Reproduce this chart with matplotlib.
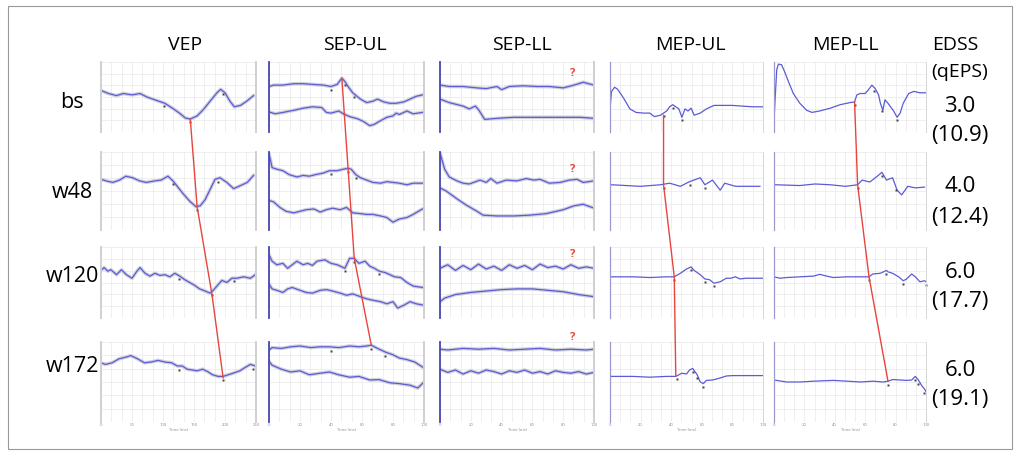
import numpy as np
import matplotlib.pyplot as plt
from matplotlib.patches import ConnectionPatch, Rectangle
from matplotlib.ticker import MultipleLocator, NullLocator

plt.rcParams['font.family'] = ['Open Sans', 'DejaVu Sans']

# labels
columns = ['VEP', 'SEP-UL', 'SEP-LL', 'MEP-UL', 'MEP-LL']
visits = ['bs', 'w48', 'w120', 'w172']
edss = ['3.0', '4.0', '6.0', '6.0']
qeps = ['(10.9)', '(12.4)', '(17.7)', '(19.1)']
windows = [250, 100, 100, 100, 100]   # ms shown per modality

# ---- VEP traces (time ms, amplitude in grid units 0-10) ----
vep_bs_t = [1, 12, 25, 36, 50, 63, 74, 90, 103, 117, 128, 136, 144, 155, 165, 176, 187, 193, 200, 208, 215, 225, 235, 246]
vep_bs_v = [5.9, 5.5, 5.2, 5.5, 5.3, 5.5, 5.0, 4.5, 4.1, 3.3, 2.6, 2.0, 1.85, 2.3, 3.2, 4.4, 5.6, 6.1, 5.6, 4.4, 3.6, 3.8, 4.4, 5.2]
vep_w48_t = [0, 8, 19, 30, 40, 51, 62, 73, 87, 97, 108, 116, 125, 133, 143, 153, 160, 168, 176, 184, 192, 203, 214, 225, 236, 246]
vep_w48_v = [6.5, 6.3, 6.1, 6.4, 6.9, 6.7, 6.3, 6.1, 6.3, 6.4, 6.9, 6.3, 5.4, 4.6, 3.7, 3.0, 3.1, 3.9, 5.2, 6.5, 6.7, 6.1, 5.3, 5.7, 6.1, 7.0]
vep_w120_t = [0, 5, 11, 16, 25, 33, 41, 50, 58, 63, 71, 79, 87, 95, 103, 111, 119, 127, 135, 143, 151, 159, 168, 176, 181, 187, 195, 203, 211, 219, 230, 241, 249]
vep_w120_v = [6.7, 7.1, 6.6, 6.8, 6.1, 6.8, 6.1, 5.6, 6.6, 7.1, 6.3, 5.9, 6.3, 6.0, 6.1, 5.8, 6.3, 5.9, 5.4, 5.0, 4.6, 4.1, 3.8, 3.5, 3.9, 4.5, 5.3, 5.0, 5.6, 5.6, 5.8, 5.6, 6.1]
vep_w172_t = [0, 7, 18, 29, 40, 48, 59, 70, 81, 92, 103, 114, 123, 131, 139, 147, 155, 164, 172, 180, 189, 197, 205, 213, 224, 232, 241, 249]
vep_w172_v = [7.4, 7.2, 7.4, 7.9, 8.1, 8.3, 7.9, 7.4, 7.5, 7.7, 7.5, 7.4, 7.0, 7.0, 6.6, 6.5, 6.4, 6.6, 6.3, 5.9, 5.7, 5.7, 5.9, 6.1, 6.4, 6.8, 7.2, 7.0]

# ---- SEP-UL traces (two channels) ----
sepul_bs_t1 = [0, 3, 9, 16, 22, 28, 35, 40, 44, 47, 49, 51, 54, 59, 63, 67, 70, 74, 78, 82, 87, 91, 95, 99]
sepul_bs_v1 = [6.5, 6.7, 6.7, 6.9, 6.9, 6.8, 6.7, 6.5, 6.8, 7.7, 7.2, 6.5, 5.6, 4.7, 4.2, 4.4, 4.7, 4.3, 4.1, 4.1, 4.3, 4.7, 5.1, 5.3]
sepul_bs_t2 = [1, 4, 9, 16, 22, 28, 34, 37, 40, 45, 48, 52, 57, 61, 65, 68, 71, 76, 80, 82, 84, 89, 93, 99]
sepul_bs_v2 = [2.8, 2.6, 2.8, 3.1, 3.4, 3.6, 3.5, 2.8, 2.7, 3.0, 2.6, 2.2, 1.9, 1.5, 0.9, 1.1, 1.5, 2.1, 2.3, 2.7, 2.5, 3.0, 2.6, 2.8]
sepul_w48_t1 = [0, 2, 5, 9, 13, 18, 22, 26, 30, 35, 39, 44, 48, 51, 53, 56, 59, 63, 67, 72, 76, 80, 84, 89, 93, 99]
sepul_w48_v1 = [9.8, 8.0, 7.8, 7.6, 7.1, 6.8, 7.0, 6.9, 7.1, 7.3, 7.6, 7.6, 7.8, 7.9, 7.8, 7.1, 6.7, 6.4, 6.1, 6.0, 6.2, 6.1, 6.0, 5.8, 6.0, 6.0]
sepul_w48_t2 = [0, 3, 7, 11, 16, 20, 24, 29, 33, 37, 41, 46, 50, 54, 59, 63, 67, 72, 76, 80, 84, 89, 93, 99]
sepul_w48_v2 = [3.8, 3.6, 2.9, 2.4, 2.2, 2.4, 2.6, 2.7, 2.3, 2.6, 2.8, 2.6, 2.9, 2.2, 2.1, 2.0, 2.0, 1.8, 1.6, 1.0, 1.4, 1.6, 2.0, 2.7]
sepul_w120_t1 = [0, 2, 5, 9, 12, 15, 18, 22, 25, 28, 31, 36, 40, 44, 49, 52, 55, 58, 62, 65, 68, 71, 75, 78, 81, 85, 89, 93, 96, 99]
sepul_w120_v1 = [8.9, 8.0, 7.5, 7.7, 7.0, 7.5, 8.0, 7.5, 7.7, 7.4, 8.0, 8.2, 7.7, 7.5, 7.0, 8.4, 8.4, 7.7, 8.0, 7.3, 7.0, 6.6, 6.4, 6.1, 5.8, 5.7, 5.0, 4.5, 4.4, 4.3]
sepul_w120_t2 = [0, 2, 5, 9, 12, 15, 20, 24, 28, 33, 37, 41, 46, 50, 54, 59, 63, 67, 72, 76, 80, 83, 87, 91, 95, 100]
sepul_w120_v2 = [4.8, 4.1, 3.9, 3.6, 4.1, 4.3, 3.9, 3.6, 3.5, 3.9, 4.0, 3.8, 3.5, 3.2, 3.4, 3.0, 2.7, 2.5, 2.3, 2.0, 2.3, 1.4, 1.8, 2.3, 2.0, 1.8]
sepul_w172_t1 = [0, 2, 8, 14, 20, 27, 33, 39, 45, 52, 58, 63, 66, 70, 75, 80, 84, 89, 94, 100]
sepul_w172_v1 = [9.0, 9.3, 9.2, 9.4, 9.5, 9.3, 9.4, 9.4, 9.3, 9.5, 9.4, 9.5, 9.6, 9.2, 8.75, 8.4, 8.0, 7.8, 7.5, 6.75]
sepul_w172_t2 = [0, 2, 8, 14, 20, 26, 33, 39, 45, 52, 58, 65, 71, 78, 84, 91, 96, 100]
sepul_w172_v2 = [7.6, 7.1, 6.6, 6.25, 6.4, 5.9, 6.1, 6.25, 5.9, 5.6, 5.7, 5.25, 5.3, 4.9, 4.8, 4.6, 4.25, 5.0]

# ---- SEP-LL traces (two channels) ----
sepll_bs_t1 = [0, 6, 15, 24, 30, 37, 40, 45, 54, 63, 71, 80, 87, 93, 100]
sepll_bs_v1 = [6.7, 6.5, 6.5, 6.3, 6.2, 6.5, 6.05, 6.5, 6.6, 6.5, 6.5, 6.3, 6.7, 7.1, 6.7]
sepll_bs_t2 = [0, 6, 15, 19, 23, 25, 29, 37, 48, 58, 69, 80, 91, 100]
sepll_bs_v2 = [4.7, 4.2, 3.7, 3.3, 3.7, 3.2, 1.8, 1.95, 2.1, 2.1, 2.1, 2.1, 2.1, 1.95]
sepll_w48_t1 = [0, 3, 6, 11, 15, 19, 26, 30, 33, 37, 43, 50, 56, 61, 65, 71, 78, 84, 89, 93, 100]
sepll_w48_v1 = [9.9, 7.8, 6.8, 6.3, 6.0, 5.9, 6.4, 6.1, 6.6, 6.0, 6.4, 6.3, 6.6, 6.4, 6.5, 6.0, 6.1, 6.4, 6.5, 6.1, 6.3]
sepll_w48_t2 = [0, 4, 11, 17, 24, 28, 37, 48, 58, 69, 80, 87, 93, 100]
sepll_w48_v2 = [5.4, 5.0, 4.0, 3.2, 2.4, 1.9, 1.8, 1.8, 1.9, 2.1, 2.6, 3.1, 3.3, 2.8]
sepll_w120_t1 = [0, 5, 10, 15, 20, 25, 30, 35, 40, 45, 50, 55, 60, 65, 70, 75, 80, 85, 90, 95, 100]
sepll_w120_v1 = [7.0, 7.5, 6.7, 7.4, 6.8, 7.6, 6.9, 7.3, 6.7, 7.5, 7.0, 7.4, 6.8, 7.6, 7.1, 7.3, 6.9, 7.5, 7.0, 7.2, 7.0]
sepll_w120_t2 = [0, 3, 10, 20, 30, 40, 50, 60, 70, 80, 90, 100]
sepll_w120_v2 = [2.3, 2.8, 3.3, 3.6, 3.8, 4.0, 4.1, 4.1, 3.9, 3.7, 3.3, 3.0]
sepll_w172_t1 = [0, 5, 15, 25, 35, 45, 55, 65, 75, 85, 95, 100]
sepll_w172_v1 = [9.1, 9.0, 9.2, 9.1, 9.2, 9.0, 9.1, 9.2, 9.0, 9.1, 9.0, 9.1]
sepll_w172_t2 = [0, 5, 10, 15, 20, 25, 30, 35, 40, 45, 50, 55, 60, 65, 70, 75, 80, 85, 90, 95, 100]
sepll_w172_v2 = [6.6, 6.2, 6.5, 6.0, 6.4, 6.1, 6.5, 6.3, 6.0, 6.4, 6.2, 6.5, 6.1, 6.3, 6.0, 6.4, 6.2, 6.1, 6.3, 6.0, 6.2]

# ---- MEP-UL traces ----
mepul_bs_t = [0, 1, 3, 5, 9, 13, 17, 22, 26, 29, 33, 37, 39, 41, 45, 47, 49, 51, 53, 55, 59, 63, 68, 80, 93, 100]
mepul_bs_v = [3.3, 5.8, 6.4, 6.1, 4.8, 3.3, 2.8, 2.7, 2.7, 2.2, 2.4, 3.0, 3.6, 3.9, 3.3, 2.1, 3.3, 3.0, 3.4, 2.4, 2.7, 3.3, 3.8, 3.8, 3.6, 3.6]
mepul_w48_t = [1, 20, 33, 39, 46, 52, 59, 62, 67, 72, 75, 82, 98]
mepul_w48_v = [5.8, 5.6, 5.8, 6.0, 5.6, 6.2, 6.7, 5.8, 6.4, 5.1, 6.0, 5.6, 5.6]
mepul_w120_t = [0, 15, 26, 37, 42, 46, 50, 53, 55, 59, 62, 65, 68, 72, 76, 79, 82, 85, 89, 100]
mepul_w120_v = [5.8, 5.8, 5.7, 5.8, 5.8, 6.3, 6.9, 7.2, 6.7, 6.1, 5.5, 5.4, 4.9, 5.1, 5.6, 5.6, 5.8, 5.5, 5.6, 5.6]
mepul_w172_t = [0, 15, 26, 37, 43, 47, 50, 52, 54, 57, 59, 61, 63, 67, 72, 76, 80, 100]
mepul_w172_v = [5.7, 5.7, 5.6, 5.7, 5.7, 6.1, 6.0, 6.5, 6.7, 5.9, 5.0, 4.8, 5.2, 5.25, 5.5, 5.75, 5.8, 5.8]

# ---- MEP-LL traces ----
mepll_bs_t = [0, 0.7, 1.8, 2.9, 5, 7, 9.5, 12.7, 17, 21.5, 25, 30, 37, 43.5, 50, 53, 54.5, 56.7, 60, 62, 64.4, 66.6, 68.8, 70, 71.6, 73, 75, 78.7, 81, 83, 85, 88.6, 92, 96, 100]
mepll_bs_v = [1.5, 4.6, 8.9, 9.7, 9.6, 8.6, 7.2, 5.5, 4.1, 3.1, 2.8, 3.0, 3.4, 3.9, 4.2, 4.3, 5.3, 5.5, 5.5, 6.0, 6.7, 6.2, 5.3, 4.1, 3.1, 4.6, 4.1, 3.0, 2.1, 2.7, 4.1, 5.5, 5.8, 5.6, 5.6]
mepll_w48_t = [1, 17, 27, 37, 47, 55, 58, 63, 68, 71, 74, 78, 81, 84, 88, 93, 99]
mepll_w48_v = [5.8, 5.7, 5.9, 5.8, 5.6, 5.8, 6.4, 6.15, 6.9, 7.4, 6.4, 6.7, 5.1, 4.5, 5.6, 5.4, 5.5]
mepll_w120_t = [0, 4, 8.3, 17, 26, 30, 34.7, 39, 48, 57, 62.5, 65, 70, 74, 75, 78, 82, 85, 87, 90.6, 93, 96, 99, 100]
mepll_w120_v = [5.8, 5.6, 5.7, 5.8, 5.9, 6.15, 5.9, 5.7, 5.8, 5.8, 5.8, 6.2, 6.3, 6.7, 6.5, 6.3, 5.8, 5.25, 5.45, 6.2, 5.8, 5.1, 5.25, 5.1]
mepll_w172_t = [0, 8.3, 17, 26, 39, 48, 57, 65, 72, 75, 78, 83, 87, 90.6, 93, 95, 97, 98.7, 100]
mepll_w172_v = [5.25, 5.0, 5.0, 5.1, 5.2, 5.1, 5.0, 5.1, 5.0, 5.1, 5.3, 5.25, 5.2, 5.25, 5.7, 5.25, 4.6, 4.2, 3.8]

# latency picks joined by red lines (time ms, amplitude)
vep_p100 = [(144, 1.85), (155, 3.0), (179, 3.3), (197, 5.5)]
sepul_n20 = [(47, 7.7), (51, 7.9), (55, 8.4), (66, 9.6)]
mepul_onset = [(35, 2.4), (35, 5.8), (42, 5.8), (43, 5.7)]
mepll_onset = [(53, 4.3), (55, 5.8), (62.5, 5.8), (75, 5.1)]

# small black latency tags (ms) on the first channel
vep_tags = [[102, 144, 197], [116, 155, 188], [125, 179, 215], [125, 197, 245]]
sepul_tags = [[40, 49, 55], [40, 51, 56], [49, 55, 71], [40, 66, 75]]
mepul_tags = [[35, 41, 47], [35, 52, 62], [42, 53, 62, 68], [44, 54, 57, 61]]
mepll_tags = [[53, 66, 71, 81], [55, 71, 80], [62.5, 74, 85, 100], [75, 93, 95, 99]]

traces = {
    0: [[(vep_bs_t, vep_bs_v)], [(vep_w48_t, vep_w48_v)], [(vep_w120_t, vep_w120_v)], [(vep_w172_t, vep_w172_v)]],
    1: [[(sepul_bs_t1, sepul_bs_v1), (sepul_bs_t2, sepul_bs_v2)],
        [(sepul_w48_t1, sepul_w48_v1), (sepul_w48_t2, sepul_w48_v2)],
        [(sepul_w120_t1, sepul_w120_v1), (sepul_w120_t2, sepul_w120_v2)],
        [(sepul_w172_t1, sepul_w172_v1), (sepul_w172_t2, sepul_w172_v2)]],
    2: [[(sepll_bs_t1, sepll_bs_v1), (sepll_bs_t2, sepll_bs_v2)],
        [(sepll_w48_t1, sepll_w48_v1), (sepll_w48_t2, sepll_w48_v2)],
        [(sepll_w120_t1, sepll_w120_v1), (sepll_w120_t2, sepll_w120_v2)],
        [(sepll_w172_t1, sepll_w172_v1), (sepll_w172_t2, sepll_w172_v2)]],
    3: [[(mepul_bs_t, mepul_bs_v)], [(mepul_w48_t, mepul_w48_v)], [(mepul_w120_t, mepul_w120_v)], [(mepul_w172_t, mepul_w172_v)]],
    4: [[(mepll_bs_t, mepll_bs_v)], [(mepll_w48_t, mepll_w48_v)], [(mepll_w120_t, mepll_w120_v)], [(mepll_w172_t, mepll_w172_v)]],
}
tags = {0: vep_tags, 1: sepul_tags, 2: None, 3: mepul_tags, 4: mepll_tags}
links = {0: vep_p100, 1: sepul_n20, 3: mepul_onset, 4: mepll_onset}

# layout in pixels
W, H = 1021, 453
col_x = [(101, 256), (269, 424), (440, 594), (610, 763), (774, 926)]
row_y = [(62, 132), (152, 230), (247, 318), (342, 422)]
blue = '#5b5bd8'
red = '#e8453c'


def box(xs, ys):
    return [xs[0] / W, 1 - ys[1] / H, (xs[1] - xs[0]) / W, (ys[1] - ys[0]) / H]


fig = plt.figure(figsize=(W / 100, H / 100), dpi=100)
fig.add_artist(Rectangle((8 / W, 1 - 449 / H), 1004 / W, 443 / H, transform=fig.transFigure,
                         fill=False, edgecolor='#9a9a9a', lw=0.8))

axes = {}
for ri in range(4):
    for ci in range(5):
        ax = fig.add_axes(box(col_x[ci], row_y[ri]))
        axes[ri, ci] = ax
        win = windows[ci]
        ax.set_xlim(0, win)
        ax.set_ylim(0, 10)
        ax.xaxis.set_major_locator(MultipleLocator(win / 5))
        ax.xaxis.set_minor_locator(MultipleLocator(win / 15))
        ax.yaxis.set_major_locator(NullLocator())
        ax.yaxis.set_minor_locator(MultipleLocator(10 / 6))
        ax.grid(which='both', color='#ececec', lw=0.6)
        ax.tick_params(which='both', length=0, labelleft=False, labelsize=3,
                       labelcolor='#888888', pad=1)
        if ri < 3:
            ax.tick_params(labelbottom=False)
        else:
            ax.set_xlabel('Time (ms)', fontsize=3, labelpad=0.5, color='#888888')
        for s in ['top', 'bottom']:
            ax.spines[s].set_visible(False)
        if ci in (1, 2):
            ax.spines['left'].set_color('#4646b0')
            ax.spines['left'].set_linewidth(1.3)
        elif ci == 0:
            ax.spines['left'].set_color('#d0d0d0')
            ax.spines['left'].set_linewidth(1.4)
        else:
            ax.spines['left'].set_color('#9a9ad0')
            ax.spines['left'].set_linewidth(0.9)
        ax.spines['right'].set_color('#d0d0d0')
        ax.spines['right'].set_linewidth(1.4 if ci < 3 else 0.6)

        for t, v in traces[ci][ri]:
            if ci < 3:
                ax.plot(t, v, color='#cdcdd8', lw=2.6, alpha=0.9, solid_joinstyle='round')
            ax.plot(t, v, color=blue, lw=0.9)

        if tags[ci] is not None:
            t0, v0 = traces[ci][ri][0]
            for tt in tags[ci][ri]:
                ax.plot(tt, np.interp(tt, t0, v0) - 0.45, marker='s', ms=1.5,
                        color='#444444', mec='none', clip_on=False)

        if ci == 2:
            qy = [0.84, 0.78, 0.89, 1.05][ri]
            ax.text(0.86, qy, '?', transform=ax.transAxes, color=red, fontsize=8,
                    ha='center', va='center', fontweight='bold')

# red lines joining the latency picks across visits
for ci, pts in links.items():
    for ri in range(3):
        con = ConnectionPatch(xyA=pts[ri], coordsA=axes[ri, ci].transData,
                              xyB=pts[ri + 1], coordsB=axes[ri + 1, ci].transData,
                              color=red, lw=1.0, zorder=10)
        fig.add_artist(con)

# column titles
title_x = [185, 355, 522, 690, 845]
for name, x in zip(columns, title_x):
    fig.text(x / W, 1 - 45 / H, name, ha='center', va='center', fontsize=14)
fig.text(955 / W, 1 - 45 / H, 'EDSS', ha='center', va='center', fontsize=14)
fig.text(960 / W, 1 - 72 / H, '(qEPS)', ha='center', va='center', fontsize=14)

row_mid = [102, 193, 277, 367]
edss_y = [106, 187, 272, 370]
for lab, y, e, q, ey in zip(visits, row_mid, edss, qeps, edss_y):
    fig.text(72 / W, 1 - y / H, lab, ha='center', va='center', fontsize=15.5)
    fig.text(960 / W, 1 - ey / H, e, ha='center', va='center', fontsize=16)
    fig.text(960 / W, 1 - (ey + 30) / H, q, ha='center', va='center', fontsize=16)

fig.savefig('out.png', dpi=100)
